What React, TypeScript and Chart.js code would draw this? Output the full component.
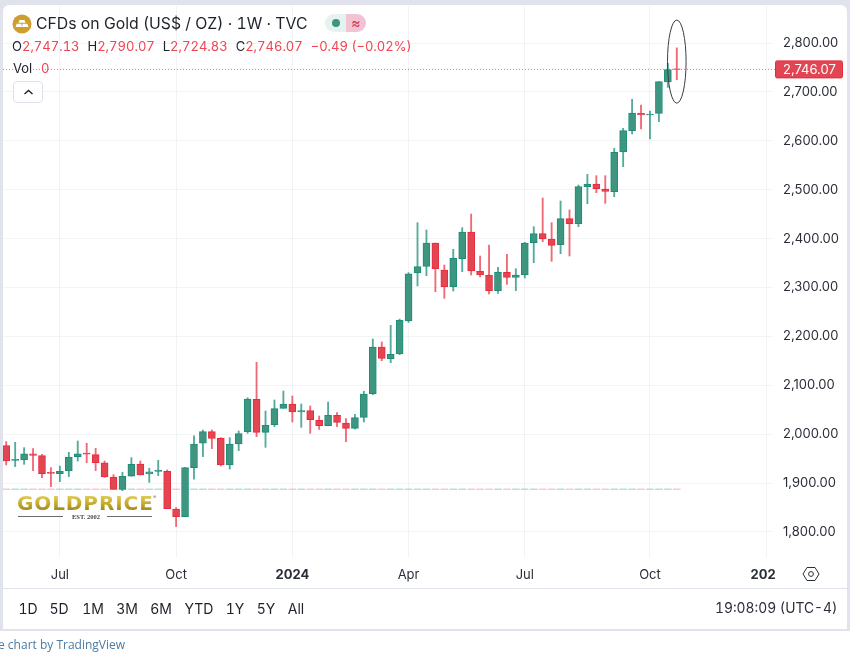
import React, { useEffect, useRef } from "react";
import Chart from "chart.js/auto";

// Weekly candles, oldest first (one row per week)
const opens = [
  1976.6, 1946.6, 1947.3, 1959.6, 1956.2, 1922.1, 1919.3, 1924.8, 1954.1, 1961.6,
  1958.2, 1941.2, 1912.5, 1887.3, 1913.9, 1939.1, 1918.7, 1924.1, 1924.1, 1847.1,
  1831.4, 1931.6, 1981.4, 2005.2, 1991.6, 1937.1, 1980.0, 2005.2, 2071.3, 2003.8,
  2019.5, 2052.9, 2061.8, 2045.4, 2048.1, 2028.3, 2017.4, 2038.6, 2022.9, 2012.0,
  2034.5, 2082.9, 2178.3, 2154.4, 2164.6, 2231.4, 2329.6, 2343.3, 2391.0, 2335.8,
  2301.7, 2359.0, 2413.5, 2333.1, 2325.6, 2293.5, 2331.0, 2320.8, 2325.6, 2391.7,
  2410.1, 2399.2, 2387.6, 2440.8, 2430.5, 2506.2, 2511.6, 2501.4, 2496.0, 2577.1,
  2620.7, 2656.2, 2652.8, 2656.2, 2720.3, 2747.13,
];
const highs = [
  1984.8, 1983.4, 1972.5, 1970.5, 1958.9, 1931.6, 1935.0, 1963.0, 1986.1, 1981.4,
  1971.2, 1945.2, 1917.3, 1922.1, 1952.1, 1945.2, 1930.3, 1946.6, 1926.8, 1849.8,
  1932.3, 1996.4, 2008.6, 2008.6, 1993.0, 1993.0, 2006.6, 2074.7, 2147.0, 2047.4,
  2069.9, 2088.3, 2078.1, 2061.8, 2057.7, 2037.2, 2065.8, 2044.0, 2031.8, 2040.6,
  2087.7, 2194.7, 2188.6, 2222.6, 2235.5, 2330.3, 2432.6, 2417.6, 2391.0, 2346.0,
  2378.1, 2422.4, 2450.3, 2364.4, 2386.9, 2341.2, 2367.8, 2338.5, 2392.4, 2424.4,
  2483.0, 2432.6, 2476.9, 2458.5, 2509.6, 2531.4, 2528.7, 2528.7, 2584.6, 2625.5,
  2684.8, 2673.2, 2661.0, 2720.9, 2758.4, 2790.07,
];
const lows = [
  1937.1, 1933.7, 1938.4, 1925.5, 1911.2, 1892.8, 1903.0, 1913.2, 1945.2, 1941.8,
  1925.5, 1911.8, 1887.3, 1884.6, 1913.9, 1916.6, 1901.6, 1915.3, 1847.8, 1811.0,
  1831.4, 1907.8, 1954.1, 1970.5, 1935.0, 1928.9, 1966.4, 2001.8, 1995.0, 1973.1,
  2015.4, 2052.9, 2025.0, 2014.0, 2001.8, 2010.0, 2017.0, 2015.4, 1984.7, 2010.6,
  2025.0, 2080.8, 2150.4, 2146.2, 2162.6, 2228.7, 2303.1, 2324.2, 2291.5, 2277.8,
  2292.8, 2332.4, 2325.6, 2321.5, 2286.7, 2288.1, 2306.5, 2293.5, 2319.4, 2350.8,
  2393.7, 2353.5, 2369.2, 2364.4, 2424.4, 2471.4, 2493.9, 2472.1, 2485.7, 2547.1,
  2613.9, 2624.1, 2603.7, 2639.1, 2709.3, 2724.83,
];
const closes = [
  1945.2, 1948.7, 1959.6, 1956.8, 1919.3, 1920.0, 1924.1, 1953.4, 1959.6, 1958.9,
  1941.8, 1912.5, 1887.3, 1913.9, 1938.4, 1916.6, 1922.8, 1926.8, 1847.8, 1831.4,
  1931.6, 1980.0, 2005.2, 1991.6, 1937.1, 1980.0, 2001.1, 2072.0, 2003.8, 2018.1,
  2052.2, 2061.8, 2045.4, 2048.1, 2029.7, 2017.4, 2038.6, 2024.3, 2012.0, 2033.8,
  2082.2, 2178.3, 2155.2, 2163.3, 2232.8, 2328.2, 2342.6, 2391.0, 2338.5, 2301.7,
  2359.6, 2413.5, 2333.8, 2325.6, 2293.5, 2331.7, 2320.8, 2325.6, 2391.0, 2410.1,
  2399.2, 2386.2, 2440.8, 2430.5, 2506.2, 2511.6, 2502.0, 2496.6, 2576.4, 2620.7,
  2656.8, 2652.8, 2654.8, 2720.9, 2745.5, 2746.07,
];

const priceTicks = [1800, 1900, 2000, 2100, 2200, 2300, 2400, 2500, 2600, 2700, 2800];
const timeTickIndex = [6, 19, 32, 45, 58, 72, 85];
const timeTickLabels = ["Jul", "Oct", "2024", "Apr", "Jul", "Oct", "202"];
const boldTimeLabels = ["2024", "202"];
const rangeButtons: [string, number][] = [
  ["1D", 28], ["5D", 59], ["1M", 93], ["3M", 127], ["6M", 161],
  ["YTD", 199], ["1Y", 235], ["5Y", 266], ["All", 296],
];
const lastPrice = 2746.07;
const volumeBand: [number, number] = [1886.6, 1888.2];
const ellipseBox = { left: 73.96, right: 76.04, top: 2847, bottom: 2677 };

const UP_FILL = "#3e9580";
const UP_LINE = "#1b8e79";
const DOWN_FILL = "#e24652";
const DOWN_LINE = "#ea2a3c";
const UI_FONT = "Inter, 'Noto Sans', sans-serif";
const TEXT = "#2a2e39";

const isUp = (i: number) => closes[i] >= opens[i];
const candleIndex = closes.map((_, i) => i);

function App() {
  const ref = useRef<HTMLCanvasElement | null>(null);

  useEffect(() => {
    const overlay = {
      id: "priceOverlay",
      beforeDatasetsDraw(chart: any) {
        const { ctx, chartArea, scales } = chart;
        const y = scales.y.getPixelForValue(lastPrice);
        ctx.save();
        ctx.strokeStyle = "rgba(242,54,69,0.75)";
        ctx.lineWidth = 1;
        ctx.setLineDash([1, 2]);
        ctx.beginPath();
        ctx.moveTo(chartArea.left, y);
        ctx.lineTo(chartArea.right + 2, y);
        ctx.stroke();
        ctx.restore();
      },
      afterDatasetsDraw(chart: any) {
        const { ctx, chartArea, scales } = chart;
        const y = scales.y.getPixelForValue(lastPrice);
        ctx.save();
        ctx.fillStyle = DOWN_FILL;
        ctx.strokeStyle = DOWN_LINE;
        ctx.beginPath();
        ctx.roundRect(chartArea.right + 2.5, y - 8.5, 67, 17, 1.5);
        ctx.fill();
        ctx.stroke();
        ctx.fillStyle = "#ffffff";
        ctx.font = `13px ${UI_FONT}`;
        ctx.textAlign = "left";
        ctx.textBaseline = "middle";
        ctx.fillText(lastPrice.toFixed(2).replace(/^(\d)(\d{3})/, "$1,$2"), chartArea.right + 10, y + 0.5);

        const xl = scales.x.getPixelForValue(ellipseBox.left);
        const xr = scales.x.getPixelForValue(ellipseBox.right);
        const yt = scales.y.getPixelForValue(ellipseBox.top);
        const yb = scales.y.getPixelForValue(ellipseBox.bottom);
        ctx.strokeStyle = "#3a3d44";
        ctx.lineWidth = 1;
        ctx.beginPath();
        ctx.ellipse((xl + xr) / 2, (yt + yb) / 2, (xr - xl) / 2, (yb - yt) / 2, 0, 0, Math.PI * 2);
        ctx.stroke();
        ctx.restore();
      },
    };

    const chart = new Chart(ref.current as HTMLCanvasElement, {
      type: "bar",
      plugins: [overlay],
      data: {
        datasets: [
          {
            label: "Volume",
            order: 3,
            grouped: false,
            barThickness: 7,
            data: candleIndex.map((i) => ({ x: i, y: volumeBand })),
            backgroundColor: candleIndex.map((i) =>
              isUp(i) ? "rgba(8,153,129,0.3)" : "rgba(242,54,69,0.28)"
            ),
          },
          {
            label: "Wick",
            order: 2,
            grouped: false,
            barThickness: 1.2,
            data: candleIndex.map((i) => ({ x: i, y: [lows[i], highs[i]] })),
            backgroundColor: candleIndex.map((i) =>
              isUp(i) ? "rgba(27,142,121,0.75)" : "rgba(234,42,60,0.7)"
            ),
          },
          {
            label: "Body",
            order: 1,
            grouped: false,
            barThickness: 7,
            borderWidth: 1,
            borderSkipped: false,
            data: candleIndex.map((i) => ({ x: i, y: [opens[i], closes[i]] })),
            backgroundColor: candleIndex.map((i) => (isUp(i) ? UP_FILL : DOWN_FILL)),
            borderColor: candleIndex.map((i) => (isUp(i) ? UP_LINE : DOWN_LINE)),
          },
        ],
      } as any,
      options: {
        animation: false,
        responsive: false,
        events: [],
        layout: { autoPadding: false, padding: { left: 3, top: 6, right: 3, bottom: 71 } },
        plugins: { legend: { display: false }, tooltip: { enabled: false } },
        scales: {
          x: {
            type: "linear",
            offset: false,
            min: -0.36,
            max: 85.76,
            border: { display: false },
            grid: { color: "#f2f3f5", offset: false, drawTicks: false },
            afterBuildTicks: (s: any) => {
              s.ticks = timeTickIndex.map((value) => ({ value }));
            },
            afterFit: (s: any) => {
              s.height = 30;
              s.paddingLeft = 0;
              s.paddingRight = 0;
            },
            ticks: {
              autoSkip: false,
              maxRotation: 0,
              padding: 9,
              color: TEXT,
              font: (c: any) => {
                const label = timeTickLabels[timeTickIndex.indexOf(c.tick?.value)];
                return {
                  family: UI_FONT,
                  size: 13,
                  weight: boldTimeLabels.includes(label) ? "bold" : "normal",
                };
              },
              // The last label is cut off at the pane edge in the reference, so it sits left of its tick.
              callback: (v: any) => {
                const label = timeTickLabels[timeTickIndex.indexOf(v)] ?? "";
                return label === "202" ? label + "  " : label;
              },
            },
          },
          y: {
            position: "right",
            min: 1746.8,
            max: 2875.7,
            border: { display: false },
            grid: { color: "#f2f3f5", drawTicks: false },
            afterBuildTicks: (s: any) => {
              s.ticks = priceTicks.map((value) => ({ value }));
            },
            afterFit: (s: any) => {
              s.width = 74;
              s.paddingTop = 0;
              s.paddingBottom = 0;
            },
            ticks: {
              padding: 10,
              color: TEXT,
              font: { family: UI_FONT, size: 13 },
              callback: (v: any) =>
                Number(v).toLocaleString("en-US", {
                  minimumFractionDigits: 2,
                  maximumFractionDigits: 2,
                }),
            },
          },
        },
      } as any,
    });
    return () => chart.destroy();
  }, []);

  const abs = (left: number, centerY: number, extra: React.CSSProperties = {}): React.CSSProperties => ({
    position: "absolute",
    left,
    top: centerY,
    transform: "translateY(-50%)",
    whiteSpace: "nowrap",
    fontFamily: UI_FONT,
    lineHeight: 1,
    fontVariantNumeric: "tabular-nums",
    ...extra,
  });
  const red: React.CSSProperties = { color: "#ef4452" };

  return (
    <div style={{ position: "fixed", left: 0, top: 0, width: 850, height: 659, background: "#fff", overflow: "hidden" }}>
      <div style={{ position: "absolute", left: 0, top: 0, width: 850, height: 631, background: "#e0e3eb" }} />
      <div style={{ position: "absolute", left: 3, top: 5, width: 844, height: 624, background: "#fff", borderRadius: "6px 6px 0 0" }} />
      <div style={{ position: "absolute", left: 3, top: 588, width: 844, height: 1, background: "#e0e3eb" }} />
      <canvas ref={ref} width={850} height={659} style={{ position: "absolute", left: 0, top: 0, width: 850, height: 659 }} />

      <svg width={20} height={20} style={{ position: "absolute", left: 12, top: 14 }} viewBox="0 0 20 20">
        <circle cx={10} cy={10} r={9.5} fill="#cf9e2d" />
        <path d="M7.5 6h5l1 2.8h-7z" fill="#fff" />
        <path d="M3.5 13l1.2-3.2h4.6l.7 3.2zM10 13l.7-3.2h4.6l1.2 3.2z" fill="#fff" />
      </svg>
      <div style={abs(36, 24, { fontSize: 15.8, color: "#1f222b" })}>CFDs on Gold (US$ / OZ) · 1W · TVC</div>
      <div style={{ position: "absolute", left: 325, top: 14, width: 41, height: 18, borderRadius: 9, overflow: "hidden", display: "flex" }}>
        <div style={{ width: 21, background: "#e5f3ef", position: "relative" }}>
          <div style={{ position: "absolute", left: 7, top: 5, width: 8, height: 8, borderRadius: 4, background: "#3d9480" }} />
        </div>
        <div style={{ width: 20, background: "#f2c3d2", color: "#d8294f", fontSize: 14, textAlign: "center", lineHeight: "18px", fontFamily: UI_FONT }}>≈</div>
      </div>
      <div style={abs(12, 45.5, { fontSize: 13, color: "#1f222b" })}>
        O<span style={red}>2,747.13</span>
        <span style={{ marginLeft: 8 }}>H</span><span style={red}>2,790.07</span>
        <span style={{ marginLeft: 8 }}>L</span><span style={red}>2,724.83</span>
        <span style={{ marginLeft: 8 }}>C</span><span style={red}>2,746.07</span>
        <span style={{ ...red, marginLeft: 8 }}>−0.49 (−0.02%)</span>
      </div>
      <div style={abs(13, 68, { fontSize: 13, color: "#1f222b" })}>Vol</div>
      <div style={abs(41, 68, { fontSize: 13, color: "#ef4452" })}>0</div>
      <div style={{ position: "absolute", left: 12.5, top: 81, width: 30, height: 22, boxSizing: "border-box", border: "1px solid #dfe2ea", borderRadius: 4, background: "#fff" }}>
        <svg width={28} height={20} viewBox="0 0 28 20" style={{ display: "block" }}>
          <path d="M10.5 12l4-3.6 4 3.6" fill="none" stroke="#1f222b" strokeWidth={1.3} />
        </svg>
      </div>

      <div style={abs(17, 503, {
        fontFamily: "'DejaVu Sans', sans-serif",
        fontWeight: 700,
        fontSize: 20,
        letterSpacing: 0.9,
        background: "linear-gradient(180deg,#e9d66b 0%,#c9ae2c 50%,#8f7a1a 100%)",
        WebkitBackgroundClip: "text",
        backgroundClip: "text",
        color: "transparent",
      })}>GOLDPRICE</div>
      <div style={abs(153, 497, { fontSize: 5, color: "#777" })}>®</div>
      <div style={{ position: "absolute", left: 18, top: 516, width: 45, height: 1, background: "#6b6b6b" }} />
      <div style={{ position: "absolute", left: 107, top: 516, width: 45, height: 1, background: "#6b6b6b" }} />
      <div style={abs(72, 516.5, { fontFamily: "'Liberation Serif', serif", fontSize: 6.5, fontWeight: 700, color: "#444" })}>EST. 2002</div>

      <svg width={18} height={18} viewBox="0 0 18 18" style={{ position: "absolute", left: 802, top: 565 }}>
        <path d="M5 2.5h8l4 6.5-4 6.5H5L1 9z" fill="none" stroke="#2a2e39" strokeWidth={1} />
        <circle cx={9} cy={9} r={2.4} fill="none" stroke="#2a2e39" strokeWidth={1} />
      </svg>

      {rangeButtons.map(([label, cx]) => (
        <div key={label} style={abs(cx, 609, { fontSize: 14, color: "#1f222b", transform: "translate(-50%,-50%)" })}>{label}</div>
      ))}
      <div style={abs(715, 609, { fontSize: 13.8, color: "#2a2e39" })}>19:08:09 (UTC-4)</div>
      <div style={abs(-2, 645, { fontFamily: "'Open Sans', sans-serif", fontSize: 12, color: "#4c7aa3" })}>e chart by TradingView</div>
    </div>
  );
}

export default App;
